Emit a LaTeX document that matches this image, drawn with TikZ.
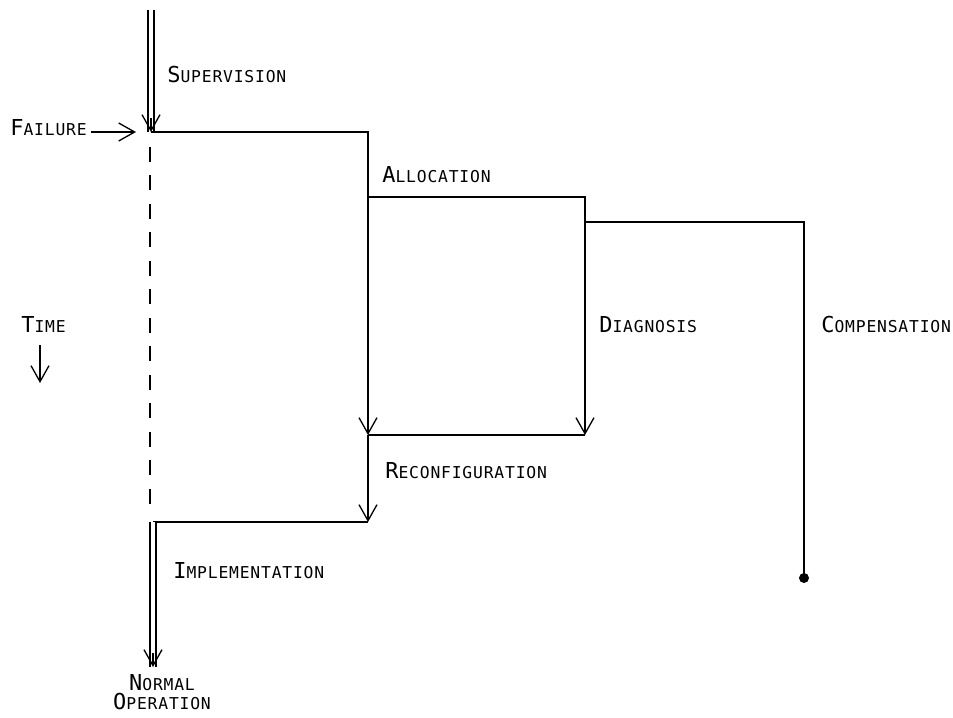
\documentclass[tikz,border=0pt]{standalone}
\usepackage{fontspec}
\newfontfamily\plotfont[LetterSpace=5]{DejaVu Sans Mono}
\usetikzlibrary{arrows.meta}
\newcommand{\smcap}[2]{{\fontsize{12.5}{14}\selectfont #1}{\fontsize{9.3}{11}\selectfont #2}}
\tikzset{
  lbl/.style={font=\plotfont, inner sep=0pt, anchor=base west},
  wire/.style={line width=0.75pt},
  link/.style={-{Straight Barb[length=3.2mm, width=3.6mm]}, line width=0.75pt},
  dwire/.style={line width=0.7pt, double, double distance=2.8pt},
  dashline/.style={line width=0.75pt, dash pattern=on 0.3cm off 0.27cm}
}

\begin{document}
\begin{tikzpicture}[x=0.02cm,y=-0.02cm]
  \useasboundingbox (0,0) rectangle (953,717);
  % labels
  \node[lbl] (sup) at (167,82) {\smcap{S}{UPERVISION}};
  \node[lbl] (failure) at (10,135) {\smcap{F}{AILURE}};
  \node[lbl] (alloc) at (382,182) {\smcap{A}{LLOCATION}};
  \node[lbl] (time) at (21,332) {\smcap{T}{IME}};
  \node[lbl] (diag) at (599,332) {\smcap{D}{IAGNOSIS}};
  \node[lbl] (comp) at (821,332) {\smcap{C}{OMPENSATION}};
  \node[lbl] (recon) at (385,478) {\smcap{R}{ECONFIGURATION}};
  \node[lbl] (impl) at (173,578) {\smcap{I}{MPLEMENTATION}};
  \node[lbl, anchor=base] (norm) at (162,690) {\smcap{N}{ORMAL}};
  \node[lbl, anchor=base] (oper) at (162,709) {\smcap{O}{PERATION}};
  % corner points
  \coordinate (supTop) at (151,10);
  \coordinate (supArr) at (151,118);
  \coordinate (fail) at (151,132);
  \coordinate (failA) at (91,132);
  \coordinate (failB) at (136,132);
  \coordinate (dashTop) at (150,147);
  \coordinate (dashBot) at (150,512);
  \coordinate (a1) at (368,132);
  \coordinate (a2) at (368,197);
  \coordinate (d1) at (585,197);
  \coordinate (d2) at (585,222);
  \coordinate (c1) at (804,222);
  \coordinate (compEnd) at (804,578);
  \coordinate (allocTip) at (368,435);
  \coordinate (diagTip) at (585,435);
  \coordinate (reconTip) at (368,522);
  \coordinate (implStart) at (153,522);
  \coordinate (normArr) at (153,653);
  \coordinate (normTip) at (153,667);
  \coordinate (timeA) at (40,345);
  \coordinate (timeB) at (40,383);
  % supervision
  \draw[dwire] (supTop) -- (fail);
  \draw[link] (supArr) -- (fail);
  \draw[link] (failA) -- (failB);
  \draw[dashline] (dashTop) -- (dashBot);
  % allocation, diagnosis, compensation
  \draw[wire] (fail) -- (a1) -- (a2) -- (d1) -- (d2) -- (c1) -- (compEnd);
  \fill (compEnd) circle (0.1cm);
  \draw[link] (a2) -- (allocTip);
  \draw[link] (d2) -- (diagTip);
  \draw[wire] (allocTip) -- (diagTip);
  % reconfiguration, implementation
  \draw[link] (allocTip) -- (reconTip);
  \draw[wire] (reconTip) -- (implStart);
  \draw[dwire] (implStart) -- (normTip);
  \draw[link] (normArr) -- (normTip);
  \draw[link] (timeA) -- (timeB);
\end{tikzpicture}
\end{document}
